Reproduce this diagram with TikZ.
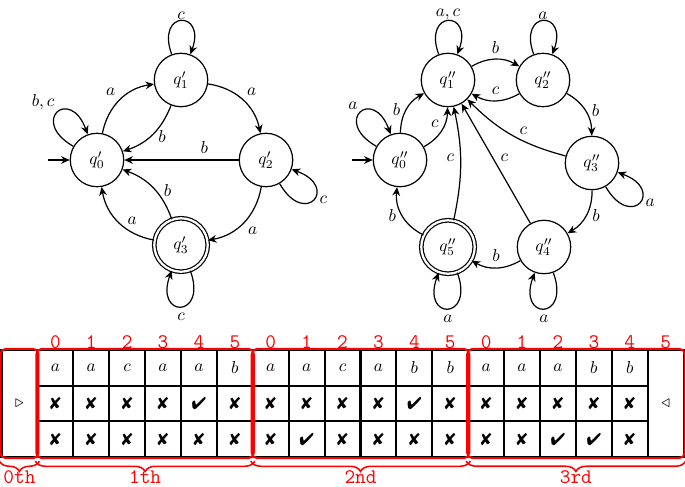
\documentclass[tikz,border=0pt]{standalone}
\usepackage{pifont}
\usetikzlibrary{arrows.meta,decorations.pathreplacing,fit,calc}
\newcommand\mX{\ding{56}}
\newcommand\mC{\ding{52}}
\begin{document}
\begin{tikzpicture}[x=0.58pt,y=-0.58pt,
  st/.style={circle,draw,line width=0.7pt,minimum size=31pt,inner sep=0pt},
  acc/.style={st,double,double distance=1.3pt},
  tr/.style={-{Stealth[length=5pt,width=4.5pt]},line width=0.7pt},
  lp/.style={tr,looseness=7},
  toplbl/.style={above,inner sep=0.5pt},
  cell/.style={draw,line width=1.2pt,minimum width=20.82pt,minimum height=20.69pt,inner sep=0pt},
  tall/.style={draw,line width=1.2pt,minimum width=20.82pt,minimum height=62.07pt,inner sep=0pt},
  grp/.style={draw=red,line width=1.2pt,rounded corners=3pt,rectangle,inner sep=0pt},
  idx/.style={text=red,font=\large\ttfamily},
  brc/.style={red,line width=0.9pt,decorate,decoration={brace,mirror,amplitude=6pt}},
]
\useasboundingbox (0,0) rectangle (685,486);

% ---------- left automaton ----------
\node[st] (p0) at (97,160) {$q'_0$};
\node[st] (p1) at (181,80) {$q'_1$};
\node[st] (p2) at (266,160) {$q'_2$};
\node[acc] (p3) at (181,245) {$q'_3$};
\coordinate (pin) at (48,160);
\draw[tr] (pin) -- (p0);
\draw[tr] (p0) to[bend left=35] node[above left=-1pt] {$a$} (p1);
\draw[tr] (p1) to[bend left=25] node[right=1pt,pos=0.55] {$b$} (p0);
\draw[tr] (p1) to[bend left=35] node[above right=-1pt] {$a$} (p2);
\draw[tr] (p2) -- node[above,pos=0.3] {$b$} (p0);
\draw[tr] (p2) to[bend left=35] node[below right=-1pt] {$a$} (p3);
\draw[tr] (p3) to[bend left=35] node[above right=-2pt,pos=0.4] {$a$} (p0);
\draw[tr] (p3) to[bend right=25] node[right=1pt,pos=0.45] {$b$} (p0);
\draw[lp] (p1) to[out=110,in=70,looseness=6.5] node[toplbl] {$c$} (p1);
\draw[lp] (p0) to[out=150,in=110,looseness=7] node[above left=-2pt] {$b,c$} (p0);
\draw[lp] (p2) to[out=-60,in=-20,looseness=7] node[right] {$c$} (p2);
\draw[lp] (p3) to[out=-70,in=-110,looseness=7] node[below] {$c$} (p3);

% ---------- right automaton ----------
\node[st] (q0) at (400,160) {$q''_0$};
\node[st] (q1) at (448,80) {$q''_1$};
\node[st] (q2) at (543,80) {$q''_2$};
\node[st] (q3) at (592,163) {$q''_3$};
\node[st] (q4) at (544,247) {$q''_4$};
\node[acc] (q5) at (448,247) {$q''_5$};
\coordinate (qin) at (352,160);
\draw[tr] (qin) -- (q0);
\draw[tr] (q0) to[bend left=30] node[left] {$b$} (q1);
\draw[tr] (q0) to[bend right=30] node[above left=-2pt] {$c$} (q1);
\draw[tr] (q1) to[bend left=30] node[above] {$b$} (q2);
\draw[tr] (q2) to[bend left=30] node[above] {$c$} (q1);
\draw[tr] (q2) to[bend left=30] node[right] {$b$} (q3);
\draw[tr] (q3) to[bend left=15] node[above right=-2pt,pos=0.45] {$c$} (q1);
\draw[tr] (q3) to[bend left=30] node[right] {$b$} (q4);
\draw[tr] (q4) -- node[right=1pt,pos=0.55] {$c$} (q1);
\draw[tr] (q4) to[bend left=30] node[above] {$b$} (q5);
\draw[tr] (q5) to[bend right=12] node[left,pos=0.55] {$c$} (q1);
\draw[tr] (q5) to[bend left=35] node[left] {$b$} (q0);
\draw[lp] (q1) to[out=110,in=70,looseness=6.5] node[toplbl] {$a,c$} (q1);
\draw[lp] (q2) to[out=110,in=70,looseness=6.5] node[toplbl] {$a$} (q2);
\draw[lp] (q0) to[out=150,in=110,looseness=7] node[above left=-2pt] {$a$} (q0);
\draw[lp] (q3) to[out=-60,in=-20,looseness=7] node[right] {$a$} (q3);
\draw[lp] (q4) to[out=-70,in=-110,looseness=7] node[below] {$a$} (q4);
\draw[lp] (q5) to[out=-70,in=-110,looseness=7] node[below] {$a$} (q5);

% ---------- tape ----------
\node[tall] (t0) at ({1.5+35.9*0.5},403.5) {$\triangleright$};
\node[tall] (t18) at ({1.5+35.9*18.5},403.5) {$\triangleleft$};
\foreach \t [count=\k] in {a,a,c,a,a,b,a,a,c,a,b,b,a,a,a,b,b}
  \node[cell] (r0c\k) at ({1.5+35.9*(\k+0.5)},367.8) {$\t$};
\foreach \t [count=\k] in {\mX,\mX,\mX,\mX,\mC,\mX,\mX,\mX,\mX,\mX,\mC,\mX,\mX,\mX,\mX,\mX,\mX}
  \node[cell] (r1c\k) at ({1.5+35.9*(\k+0.5)},403.5) {\t};
\foreach \t [count=\k] in {\mX,\mX,\mX,\mX,\mX,\mX,\mX,\mC,\mX,\mX,\mX,\mX,\mX,\mX,\mC,\mC,\mX}
  \node[cell] (r2c\k) at ({1.5+35.9*(\k+0.5)},439.2) {\t};
\foreach \t [count=\k] in {0,1,2,3,4,5,0,1,2,3,4,5,0,1,2,3,4,5}
  \node[idx] (i\k) at ({1.5+35.9*(\k+0.5)},342) {\t};

\node[grp,fit=(t0)] (g0) {};
\node[grp,fit=(r0c1) (r2c6)] (g1) {};
\node[grp,fit=(r0c7) (r2c12)] (g2) {};
\node[grp,fit=(r0c13) (t18)] (g3) {};

\foreach \g/\s in {g0/0th,g1/1th,g2/2nd,g3/3rd}{
  \draw[brc] ($(\g.south west)+(0,2)$) -- ($(\g.south east)+(0,2)$);
  \node[idx,inner sep=0pt,anchor=base] (l\g) at ($(\g.south)+(0,24)$) {\s};
}
\end{tikzpicture}
\end{document}
